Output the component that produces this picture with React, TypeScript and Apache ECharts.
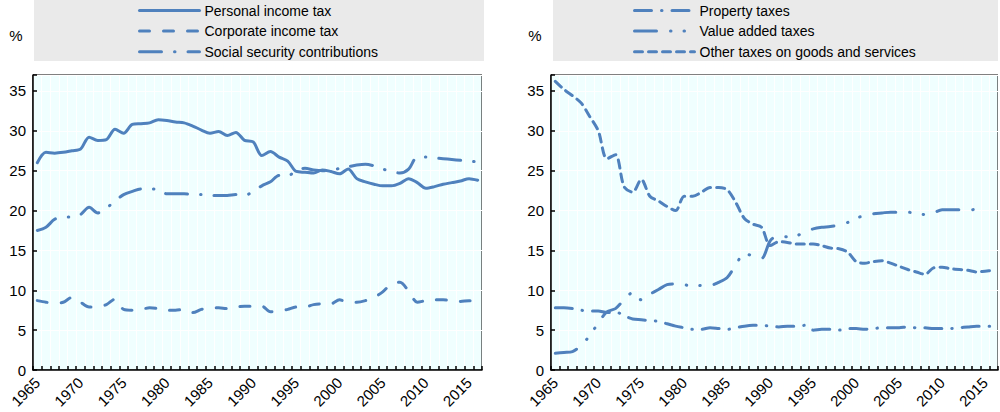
import React, { useEffect, useRef } from "react";
import * as echarts from "echarts";

const years = [
  "1965", "1966", "1967", "1968", "1969", "1970", "1971", "1972", "1973", "1974",
  "1975", "1976", "1977", "1978", "1979", "1980", "1981", "1982", "1983", "1984",
  "1985", "1986", "1987", "1988", "1989", "1990", "1991", "1992", "1993", "1994",
  "1995", "1996", "1997", "1998", "1999", "2000", "2001", "2002", "2003", "2004",
  "2005", "2006", "2007", "2008", "2009", "2010", "2011", "2012", "2013", "2014",
  "2015", "2016",
];

const personalIncomeTax = [
  26.0, 27.3, 27.2, 27.3, 27.5, 27.7, 29.2, 28.8, 28.9, 30.2,
  29.7, 30.8, 30.9, 31.0, 31.4, 31.3, 31.1, 31.0, 30.6, 30.1,
  29.7, 29.9, 29.4, 29.8, 28.8, 28.6, 26.9, 27.4, 26.7, 26.2,
  24.9, 24.8, 24.7, 25.1, 24.9, 24.6, 25.2, 24.0, 23.6, 23.3,
  23.1, 23.1, 23.4, 24.0, 23.5, 22.8, 23.0, 23.3, 23.5, 23.7,
  24.0, 23.8,
];

const corporateIncomeTax = [
  8.7, 8.5, 8.4, 8.5, 9.1, 8.5, 7.9, 7.9, 8.2, 8.9,
  7.6, 7.5, 7.6, 7.8, 7.7, 7.5, 7.5, 7.6, 7.2, 7.6,
  7.8, 7.8, 7.7, 7.9, 8.0, 8.0, 8.0, 7.3, 7.4, 7.6,
  7.9, 7.9, 8.2, 8.3, 8.3, 8.8, 8.5, 8.5, 8.7, 9.1,
  9.8, 10.8, 11.0, 9.9, 8.5, 8.7, 8.8, 8.8, 8.7, 8.6,
  8.7, 8.7,
];

const socialSecurity = [
  17.5, 17.9, 18.9, 19.2, 19.2, 19.5, 20.4, 19.7, 20.3, 21.2,
  22.0, 22.4, 22.7, 22.7, 22.7, 22.1, 22.1, 22.1, 22.0, 22.0,
  21.9, 21.9, 21.9, 22.0, 21.9, 22.4, 23.1, 23.6, 24.4, 24.3,
  25.1, 25.3, 25.1, 25.0, 25.0, 25.3, 25.5, 25.7, 25.8, 25.6,
  25.2, 24.9, 24.7, 25.2, 26.7, 26.7, 26.6, 26.5, 26.4, 26.3,
  26.2, 26.1,
];

const propertyTaxes = [
  7.8, 7.8, 7.7, 7.5, 7.4, 7.4, 7.2, 7.3, 6.8, 6.4,
  6.3, 6.2, 6.1, 5.8, 5.5, 5.3, 5.1, 5.1, 5.3, 5.2,
  5.1, 5.3, 5.5, 5.6, 5.6, 5.5, 5.4, 5.5, 5.5, 5.6,
  5.0, 5.1, 5.1, 5.0, 5.2, 5.2, 5.1, 5.2, 5.3, 5.3,
  5.3, 5.4, 5.3, 5.3, 5.2, 5.2, 5.2, 5.3, 5.4, 5.5,
  5.5, 5.5,
];

const valueAddedTaxes = [
  2.1, 2.2, 2.3, 3.1, 4.3, 5.9, 7.3, 7.7, 8.8, 9.7,
  8.8, 9.5, 10.1, 10.7, 10.8, 10.7, 10.5, 10.6, 10.6, 11.0,
  11.6, 13.2, 14.6, 14.3, 14.0, 16.2, 16.9, 16.7, 16.8, 17.3,
  17.7, 17.9, 18.0, 18.2, 18.5, 19.1, 19.3, 19.6, 19.7, 19.8,
  19.8, 19.8, 19.6, 19.5, 19.7, 20.1, 20.1, 20.1, 20.0, 20.2,
  20.3, null,
];

const otherGoodsServices = [
  36.2, 35.2, 34.4, 33.5, 31.8, 30.0, 26.5, 27.0, 23.0, 22.3,
  23.9, 21.8, 21.2, 20.5, 20.0, 21.8, 21.8, 22.3, 22.9, 22.9,
  22.6, 21.0, 19.0, 18.3, 17.9, 15.6, 16.1, 16.0, 15.8, 15.8,
  15.8, 15.6, 15.3, 15.2, 14.8, 13.6, 13.4, 13.6, 13.7, 13.4,
  13.0, 12.6, 12.3, 12.0, 12.8, 12.9, 12.7, 12.6, 12.5, 12.3,
  12.4, 12.5,
];

const leftNames = ["Personal income tax", "Corporate income tax", "Social security contributions"];
const rightNames = ["Property taxes", "Value added taxes", "Other taxes on goods and services"];
const yTicks = [0, 5, 10, 15, 20, 25, 30, 35];

const FONT = "'Liberation Sans', Arial, sans-serif";
const COLOR = "#4F81BD";

function makeAxes(gridIndex: number) {
  const x = {
    type: "category",
    gridIndex,
    data: years,
    boundaryGap: true,
    axisLine: { show: true, lineStyle: { color: "#000", width: 1.5 } },
    axisTick: { show: true, inside: true, length: 4, interval: 0, lineStyle: { color: "#000", width: 1.5 } },
    axisLabel: { interval: 4, rotate: 45, fontSize: 15, color: "#000", fontFamily: FONT, margin: 10 },
    splitLine: { show: true, interval: 0, lineStyle: { color: "#fff", width: 1 } },
  };
  const y = {
    type: "value",
    gridIndex,
    min: 0,
    max: 37,
    interval: 5,
    axisLine: { show: true, lineStyle: { color: "#000", width: 1.5 } },
    axisTick: { show: true, inside: true, length: 4, lineStyle: { color: "#000", width: 1.5 } },
    axisLabel: {
      fontSize: 15,
      color: "#000",
      fontFamily: FONT,
      margin: 7,
      formatter: (v: number) => (yTicks.indexOf(v) >= 0 ? String(v) : ""),
    },
    splitLine: { show: true, lineStyle: { color: "#fff", width: 1 } },
  };
  return { x, y };
}

function lineSeries(name: string, data: (number | null)[], idx: number, dash: any) {
  return {
    name,
    type: "line",
    xAxisIndex: idx,
    yAxisIndex: idx,
    data,
    symbol: "none",
    smooth: 0.3,
    connectNulls: false,
    itemStyle: { color: COLOR },
    lineStyle: { color: COLOR, width: 3, type: dash, cap: "round", join: "round" },
    emphasis: { disabled: true },
  };
}

export default function App() {
  const ref = useRef<HTMLDivElement>(null);
  useEffect(() => {
    if (!ref.current) return;
    const chart = echarts.init(ref.current, undefined, { renderer: "svg" });
    const a0 = makeAxes(0);
    const a1 = makeAxes(1);
    const legendBase = {
      orient: "vertical",
      top: 1.5,
      itemWidth: 60,
      itemHeight: 14,
      itemGap: 2.6,
      padding: 0,
      selectedMode: false,
      itemStyle: { opacity: 0 },
      lineStyle: { width: 3, cap: "round" },
      textStyle: { fontSize: 14, fontFamily: FONT, color: "#000", lineHeight: 18 },
    };
    chart.setOption({
      animation: false,
      backgroundColor: "#fff",
      grid: [
        { left: 33, top: 75, width: 449, height: 295, show: true, backgroundColor: "#F0FFFF", borderColor: "#000", borderWidth: 1 },
        { left: 551, top: 75, width: 447, height: 295, show: true, backgroundColor: "#F0FFFF", borderColor: "#000", borderWidth: 1 },
      ],
      xAxis: [a0.x, a1.x],
      yAxis: [a0.y, a1.y],
      graphic: [
        { type: "rect", z: -10, shape: { x: 34, y: 0, width: 450, height: 61 }, style: { fill: "#EAEAEA" }, silent: true },
        { type: "rect", z: -10, shape: { x: 553, y: 0, width: 445, height: 61 }, style: { fill: "#EAEAEA" }, silent: true },
        { type: "text", x: 16, y: 35, style: { text: "%", fontSize: 15, fontFamily: FONT, fill: "#000", align: "center", verticalAlign: "middle" } },
        { type: "text", x: 535, y: 35, style: { text: "%", fontSize: 15, fontFamily: FONT, fill: "#000", align: "center", verticalAlign: "middle" } },
      ],
      legend: [
        { ...legendBase, left: 138, data: leftNames },
        { ...legendBase, left: 633, data: rightNames },
      ],
      series: [
        lineSeries(leftNames[0], personalIncomeTax, 0, "solid"),
        lineSeries(leftNames[1], corporateIncomeTax, 0, [10, 14]),
        lineSeries(leftNames[2], socialSecurity, 0, [22, 13, 0.5, 13]),
        lineSeries(rightNames[0], propertyTaxes, 1, [17, 10, 0.5, 10]),
        lineSeries(rightNames[1], valueAddedTaxes, 1, [22, 14, 0.5, 13, 0.5, 14]),
        lineSeries(rightNames[2], otherGoodsServices, 1, [8, 6]),
      ],
    });
    return () => chart.dispose();
  }, []);
  return <div ref={ref} style={{ position: "fixed", left: 0, top: 0, width: 1000, height: 412 }} />;
}
